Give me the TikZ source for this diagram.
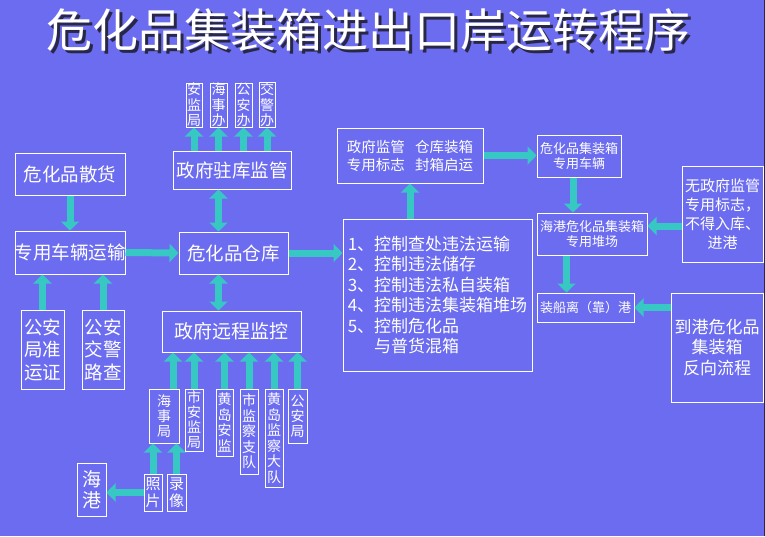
\documentclass[tikz,border=0pt]{standalone}
\usepackage{fontspec}
\setmainfont{Noto Sans CJK SC}
\usetikzlibrary{arrows.meta,calc}
\definecolor{bg}{RGB}{108,108,240}
\definecolor{tl}{RGB}{56,200,196}
\definecolor{shd}{RGB}{40,40,70}
\newcommand{\fs}[2]{\fontsize{#1}{#2}\selectfont}
\tikzset{
  box/.style={draw=white, line width=1pt, text=white, inner sep=0pt, align=center},
  arr/.style={draw=tl, line width=7pt, -{Triangle[length=9pt,width=18pt]}},
  darr/.style={draw=tl, line width=7pt, {Triangle[length=9pt,width=18pt]}-{Triangle[length=9pt,width=18pt]}},
}
\begin{document}
\begin{tikzpicture}[x=1pt,y=-1pt]
\fill[bg] (0,0) rectangle (765,536);
\useasboundingbox (0,0) rectangle (765,536);
\fill[shd] (763.5,0) rectangle (765,536);
% title with shadow
\node[text=white, font=\fs{46}{46}] (title) at (368,32) {\makebox[0pt][l]{\hspace{3pt}\raisebox{-3pt}{\textcolor{shd}{危化品集装箱进出口岸运转程序}}}危化品集装箱进出口岸运转程序};
% left column
\node[box, font=\fs{18.5}{22}, minimum width=110pt, minimum height=42pt] (sanhuo) at (70,174) {危化品散货};
\node[box, font=\fs{18.5}{22}, minimum width=110pt, minimum height=43pt] (yunshu) at (70,252.5) {\makebox[110pt]{专用车辆运输}};
\node[box, font=\fs{18.5}{22.5}, minimum width=43pt, minimum height=79pt] (zhunyun) at (42.5,349.5) {公安\\局准\\运证};
\node[box, font=\fs{18.5}{22.5}, minimum width=42pt, minimum height=79pt] (lucha) at (103,349.5) {公安\\交警\\路查};
% warehouse
\node[box, font=\fs{18.5}{22}, minimum width=109pt, minimum height=42pt] (cangku) at (233.5,253) {危化品仓库};
\node[box, font=\fs{18.5}{22}, minimum width=118pt, minimum height=38pt] (zhuku) at (232,170) {政府驻库监管};
\node[box, font=\fs{14}{15.5}, minimum width=16pt, minimum height=44pt] (anjianju) at (194,105) {安\\监\\局};
\node[box, font=\fs{14}{15.5}, minimum width=17pt, minimum height=44pt] (haishiban) at (218.5,105) {海\\事\\办};
\node[box, font=\fs{14}{15.5}, minimum width=17pt, minimum height=44pt] (gonganban) at (243.5,105) {公\\安\\办};
\node[box, font=\fs{14}{15.5}, minimum width=16pt, minimum height=44pt] (jiaojingban) at (267,105) {交\\警\\办};
\node[box, font=\fs{19}{22}, minimum width=139pt, minimum height=41pt] (yuancheng) at (231.5,331.5) {政府远程监控};
\node[box, font=\fs{14}{15}, minimum width=30pt, minimum height=54pt] (haishiju) at (164,416) {海\\事\\局};
\node[box, font=\fs{14}{15}, minimum width=18pt, minimum height=62pt] (shianjian) at (194,420) {市\\安\\监\\局};
\node[box, font=\fs{14}{15.5}, minimum width=17pt, minimum height=67pt] (huangdaoaj) at (224.5,422.5) {黄\\岛\\安\\监};
\node[box, font=\fs{14}{15.5}, minimum width=18pt, minimum height=85pt] (jianchazhi) at (249,431.5) {市\\监\\察\\支\\队};
\node[box, font=\fs{14}{15.5}, minimum width=18pt, minimum height=98pt] (jianchada) at (274,438) {黄\\岛\\监\\察\\大\\队};
\node[box, font=\fs{14}{15}, minimum width=19pt, minimum height=54pt] (gonganju) at (297.5,416) {公\\安\\局};
\node[box, font=\fs{15}{17}, minimum width=18pt, minimum height=37pt] (zhaopian) at (153,492.5) {照\\片};
\node[box, font=\fs{15}{17}, minimum width=19pt, minimum height=37pt] (luxiang) at (176.5,492.5) {录\\像};
\node[box, font=\fs{19}{21}, minimum width=29pt, minimum height=53pt] (haigang) at (91.5,489.5) {海\\港};
% middle / right
\node[box, font=\fs{14.5}{18}, minimum width=146pt, minimum height=55pt] (jianguan) at (410,155.5) {政府监管\hspace{0.7em}仓库装箱\\专用标志\hspace{0.7em}封箱启运};
\node[box, font=\fs{17}{20.5}, minimum width=189pt, minimum height=152pt, align=left] (kongzhi) at (437.5,295) {1、控制查处违法运输\\2、控制违法储存\\3、控制违法私自装箱\\4、控制违法集装箱堆场\\5、控制危化品\\\hphantom{5、}与普货混箱};
\node[box, font=\fs{13}{14.5}, minimum width=84pt, minimum height=42pt] (cheliang) at (579,156) {危化品集装箱\\专用车辆};
\node[box, font=\fs{13}{15.5}, minimum width=110pt, minimum height=42pt] (duichang) at (592,234) {海港危化品集装箱\\专用堆场};
\node[box, font=\fs{13}{15}, minimum width=97pt, minimum height=29pt] (zhuangchuan) at (585.5,307.5) {装船离（靠）港};
\node[box, font=\fs{15}{19}, minimum width=81pt, minimum height=96pt] (wuzhengfu) at (722.5,214) {无政府监管\\专用标志，\\不得入库、\\进港};
\node[box, font=\fs{17}{20.5}, minimum width=92pt, minimum height=109pt] (daogang) at (717,347.5) {到港危化品\\集装箱\\反向流程};
% helper coordinates for off-centre arrows
\coordinate (hsjtop) at ($(haishiju.north)+(9,0)$);
\coordinate (clbot) at ($(cheliang.south)+(-6,0)$);
\coordinate (dcbot) at ($(duichang.south west)+(30,0)$);
\coordinate (wzleft) at ($(wuzhengfu.west)+(0,12)$);
% arrows left
\draw[arr] (sanhuo.south) -- (yunshu.north);
\draw[arr] (zhunyun.north) -- (zhunyun.north |- yunshu.south);
\draw[arr] (lucha.north) -- (lucha.north |- yunshu.south);
\draw[arr] (yunshu.east) -- (cangku.west);
\draw[darr] (haishiban.south |- cangku.north) -- (haishiban.south |- zhuku.south);
\draw[darr] (haishiban.south |- cangku.south) -- (haishiban.south |- yuancheng.north);
\draw[arr] (anjianju.south |- zhuku.north) -- (anjianju.south);
\draw[arr] (haishiban.south |- zhuku.north) -- (haishiban.south);
\draw[arr] (gonganban.south |- zhuku.north) -- (gonganban.south);
\draw[arr] (jiaojingban.south |- zhuku.north) -- (jiaojingban.south);
\draw[arr] (hsjtop) -- (hsjtop |- yuancheng.south);
\draw[arr] (shianjian.north) -- (shianjian.north |- yuancheng.south);
\draw[arr] (huangdaoaj.north) -- (huangdaoaj.north |- yuancheng.south);
\draw[arr] (jianchazhi.north) -- (jianchazhi.north |- yuancheng.south);
\draw[arr] (jianchada.north) -- (jianchada.north |- yuancheng.south);
\draw[arr] (gonganju.north) -- (gonganju.north |- yuancheng.south);
\draw[arr] (zhaopian.north) -- (zhaopian.north |- haishiju.south);
\draw[arr] (luxiang.north) -- (luxiang.north |- haishiju.south);
\draw[arr] (zhaopian.west) -- (haigang.east |- zhaopian.west);
% arrows right
\draw[arr] (cangku.east) -- (kongzhi.west |- cangku.east);
\draw[arr] (jianguan.south |- kongzhi.north) -- (jianguan.south);
\draw[arr] (jianguan.east) -- (cheliang.west |- jianguan.east);
\draw[arr] (clbot) -- (clbot |- duichang.north);
\draw[arr] (dcbot) -- (dcbot |- zhuangchuan.north);
\draw[arr] (wzleft) -- (wzleft -| duichang.east);
\draw[arr] (daogang.west |- zhuangchuan.east) -- (zhuangchuan.east);
\end{tikzpicture}
\end{document}
